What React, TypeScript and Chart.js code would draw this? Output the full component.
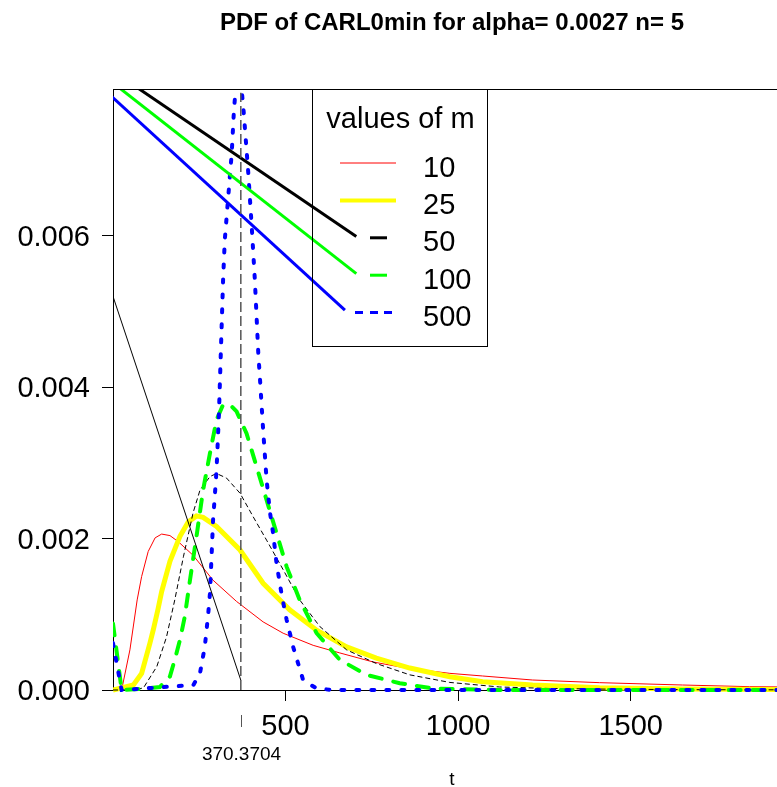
import React, { useEffect, useRef } from "react";
import { Chart, registerables } from "chart.js";

Chart.register(...registerables);

const FONT = "'Liberation Sans', Arial, Helvetica, sans-serif";

// ---- texts ----
const chartTitle = "PDF of CARL0min for alpha= 0.0027 n= 5";
const xAxisLabel = "t";
const legendTitle = "values of m";
const mValues = ["10", "25", "50", "100", "500"];

// ---- axes ----
const xTicks = [500, 1000, 1500];
const yTicks = [0, 0.002, 0.004, 0.006];
const xMin = 0;
const xMax = 1924;
const yMin = 0;
const yMax = 0.00794;
const arl0 = 370.3704;

// ---- series (t, pdf) ----
const tM10 = [0, 25, 49, 70, 83, 102, 122, 141, 165, 189, 232, 290, 358, 435, 493, 580, 657, 754, 850, 976, 1071, 1216, 1410, 1650, 1844, 1950];
const pdfM10 = [0, 0, 0.00053, 0.00119, 0.0015, 0.00183, 0.00201, 0.00206, 0.00204, 0.00196, 0.00178, 0.00145, 0.00117, 0.0009, 0.00075, 0.00059, 0.00049, 0.00037, 0.00029, 0.00022, 0.000185, 0.000132, 0.000097, 0.000066, 0.000044, 0.00004];

const tM25 = [0, 59, 83, 107, 117, 131, 141, 165, 194, 218, 242, 261, 300, 368, 435, 512, 590, 677, 763, 860, 976, 1071, 1216, 1410, 1650, 1950];
const pdfM25 = [0, 0.000066, 0.00022, 0.00062, 0.0008, 0.00108, 0.0013, 0.0017, 0.00203, 0.00222, 0.0023, 0.00228, 0.00216, 0.00185, 0.00141, 0.00106, 0.00079, 0.00057, 0.00042, 0.00029, 0.000176, 0.00011, 0.000066, 0.00003, 0.000013, 0.000006];

const tM50 = [0, 50, 88, 127, 155, 179, 204, 232, 252, 281, 300, 329, 368, 406, 445, 493, 541, 599, 677, 763, 860, 976, 1120, 1265, 1459, 1700, 1950];
const pdfM50 = [0, 0, 0.000026, 0.00031, 0.0007, 0.00119, 0.00176, 0.00234, 0.00264, 0.00282, 0.00286, 0.0028, 0.0026, 0.00229, 0.00198, 0.00159, 0.00119, 0.00084, 0.00053, 0.00035, 0.0002, 0.0001, 0.00004, 0.00002, 0.00001, 0.000004, 0.000002];

const tM100 = [0, 25, 78, 136, 165, 179, 194, 208, 223, 242, 261, 281, 300, 319, 339, 358, 387, 416, 445, 474, 503, 541, 590, 657, 734, 831, 927, 1120, 1950];
const pdfM100 = [0.00088, 0, 0.000013, 0.00004, 0.00018, 0.0004, 0.00066, 0.00097, 0.00145, 0.00203, 0.00264, 0.00313, 0.00357, 0.00377, 0.00377, 0.00368, 0.00339, 0.00295, 0.00251, 0.00207, 0.00163, 0.00119, 0.00075, 0.0004, 0.0002, 0.00009, 0.00002, 0, 0];

const tM500 = [0, 25, 233, 252, 266, 276, 281, 286, 290, 295, 300, 303, 307, 310, 319, 324, 334, 344, 350, 355, 366, 375, 379, 392, 402, 411, 421, 426, 435, 445, 455, 464, 474, 488, 503, 522, 551, 590, 638, 1950];
const pdfM500 = [0.00062, 0, 0.000066, 0.00022, 0.00057, 0.00101, 0.00128, 0.00181, 0.00225, 0.00256, 0.00291, 0.00322, 0.00366, 0.0041, 0.00542, 0.00595, 0.00652, 0.00709, 0.00762, 0.00793, 0.0083, 0.00782, 0.00762, 0.00683, 0.00612, 0.00542, 0.00445, 0.0041, 0.00344, 0.00278, 0.00234, 0.00207, 0.00167, 0.00128, 0.00093, 0.00057, 0.00013, 0.00002, 0, 0];

// stray segments present in the reference picture
const tRefLine = [arl0, arl0];
const pdfRefLine = [0, 0.00789];
const tDiag = [0, 370.37];
const pdfDiag = [0.0052, 0.00013];
const tLink50 = [-327, 705];
const pdfLink50 = [0.00919, 0.00599];
const tLink100 = [-327, 705];
const pdfLink100 = [0.00919, 0.0055];
const tLink500 = [-327, 672];
const pdfLink500 = [0.00919, 0.00502];

const pts = (xs: number[], ys: number[]) => xs.map((x, i) => ({ x, y: ys[i] }));

const CLIP = { left: 0, top: 0, right: 0, bottom: 3 };

const decorPlugin = {
  id: "decor",
  afterDraw(chart: any) {
    const ctx = chart.ctx as CanvasRenderingContext2D;
    const a = chart.chartArea;
    const xs = chart.scales.x;
    ctx.save();
    ctx.fillStyle = "#000";
    ctx.textBaseline = "alphabetic";
    // title
    ctx.font = `bold 24px ${FONT}`;
    ctx.textAlign = "center";
    ctx.fillText(chartTitle, 452, 30);
    // top border of the box
    ctx.strokeStyle = "#000";
    ctx.lineWidth = 1;
    ctx.beginPath();
    ctx.moveTo(a.left, a.top + 0.5);
    ctx.lineTo(a.right, a.top + 0.5);
    ctx.stroke();
    // ARL0 tick + label
    const px = Math.round(xs.getPixelForValue(arl0)) + 0.5;
    ctx.strokeStyle = "#555";
    ctx.beginPath();
    ctx.moveTo(px, 715);
    ctx.lineTo(px, 727);
    ctx.stroke();
    ctx.font = `19px ${FONT}`;
    ctx.fillText(arl0.toFixed(4), px, 760);
    ctx.fillText(xAxisLabel, 452, 785);

    // legend
    const bx = 312.5, by = 89.5, bw = 175, bh = 257;
    ctx.strokeStyle = "#000";
    ctx.lineWidth = 1;
    ctx.strokeRect(bx, by, bw, bh);
    ctx.font = `29px ${FONT}`;
    ctx.fillText(legendTitle, 400.5, 128);
    ctx.textAlign = "left";
    const y0 = 163;
    const dy = 37.4;
    mValues.forEach((m, i) => {
      const y = y0 + dy * i;
      ctx.fillStyle = "#000";
      ctx.fillText(m, 423, y + 13.5);
      ctx.lineCap = "butt";
      ctx.setLineDash([]);
      ctx.beginPath();
      if (i === 0) {
        ctx.strokeStyle = "#ff0000"; ctx.lineWidth = 1;
        ctx.moveTo(340, y); ctx.lineTo(396, y);
      } else if (i === 1) {
        ctx.strokeStyle = "#ffff00"; ctx.lineWidth = 4;
        ctx.moveTo(340, y); ctx.lineTo(396, y);
      } else if (i === 2) {
        ctx.strokeStyle = "#000000"; ctx.lineWidth = 3;
        ctx.moveTo(370, y); ctx.lineTo(387, y);
      } else if (i === 3) {
        ctx.strokeStyle = "#00ff00"; ctx.lineWidth = 3;
        ctx.moveTo(370, y); ctx.lineTo(387, y);
      } else {
        ctx.strokeStyle = "#0000ff"; ctx.lineWidth = 3;
        ctx.moveTo(355, y); ctx.lineTo(363, y);
        ctx.moveTo(370, y); ctx.lineTo(378, y);
        ctx.moveTo(384, y); ctx.lineTo(392, y);
      }
      ctx.stroke();
    });
    ctx.restore();
  },
};

export default function App() {
  const ref = useRef<HTMLCanvasElement | null>(null);
  useEffect(() => {
    if (!ref.current) return;
    const common = { pointRadius: 0, pointHoverRadius: 0, tension: 0, fill: false, clip: CLIP } as any;
    const chart = new Chart(ref.current, {
      type: "line",
      data: {
        datasets: [
          { ...common, label: "m=10", data: pts(tM10, pdfM10), borderColor: "#ff0000", borderWidth: 1, order: 5 },
          { ...common, label: "m=25", data: pts(tM25, pdfM25), borderColor: "#ffff00", borderWidth: 5, order: 4 },
          { ...common, label: "m=50", data: pts(tM50, pdfM50), borderColor: "#000000", borderWidth: 1, borderDash: [5, 3], order: 3 },
          { ...common, label: "m=100", data: pts(tM100, pdfM100), borderColor: "#00ff00", borderWidth: 4, borderDash: [12, 12], borderCapStyle: "round", order: 2 },
          { ...common, label: "m=500", data: pts(tM500, pdfM500), borderColor: "#0000ff", borderWidth: 4, borderDash: [3, 12], borderCapStyle: "round", order: 1 },
          { ...common, label: "ref", data: pts(tRefLine, pdfRefLine), borderColor: "#555555", borderWidth: 1.5, borderDash: [10, 4], order: 0 },
          { ...common, label: "diag", data: pts(tDiag, pdfDiag), borderColor: "#000000", borderWidth: 1, order: 0 },
          { ...common, label: "l50", data: pts(tLink50, pdfLink50), borderColor: "#000000", borderWidth: 3, order: 0 },
          { ...common, label: "l100", data: pts(tLink100, pdfLink100), borderColor: "#00ff00", borderWidth: 3, order: 0 },
          { ...common, label: "l500", data: pts(tLink500, pdfLink500), borderColor: "#0000ff", borderWidth: 3, order: 0 },
        ],
      },
      options: {
        animation: false,
        responsive: false,
        devicePixelRatio: 1,
        events: [],
        layout: { padding: { top: 89, left: 0, right: 0, bottom: 0 } },
        plugins: { legend: { display: false }, title: { display: false }, tooltip: { enabled: false } },
        scales: {
          x: {
            type: "linear",
            min: xMin,
            max: xMax,
            afterBuildTicks: (axis: any) => { axis.ticks = xTicks.map((v) => ({ value: v })); },
            afterFit: (axis: any) => { axis.height = 97; },
            ticks: {
              color: "#000",
              font: { family: FONT, size: 29 },
              padding: 9,
              maxRotation: 0,
              autoSkip: false,
              callback: (v: any) => String(v),
            },
            grid: { drawOnChartArea: false, drawTicks: true, tickLength: 11, tickColor: "#000", color: "#000" },
            border: { display: true, color: "#000", width: 1 },
          },
          y: {
            type: "linear",
            min: yMin,
            max: yMax,
            afterBuildTicks: (axis: any) => { axis.ticks = yTicks.map((v) => ({ value: v })); },
            afterFit: (axis: any) => { axis.width = 113; },
            ticks: {
              color: "#000",
              font: { family: FONT, size: 29 },
              padding: 12,
              labelOffset: 2,
              autoSkip: false,
              callback: (v: any) => Number(v).toFixed(3),
            },
            grid: { drawOnChartArea: false, drawTicks: true, tickLength: 11, tickColor: "#000", color: "#000" },
            border: { display: true, color: "#000", width: 1 },
          },
        },
      } as any,
      plugins: [decorPlugin],
    });
    return () => chart.destroy();
  }, []);
  return (
    <div style={{ position: "absolute", left: 0, top: 0, width: 777, height: 787, background: "#fff" }}>
      <canvas ref={ref} width={777} height={787} style={{ display: "block" }} />
    </div>
  );
}
